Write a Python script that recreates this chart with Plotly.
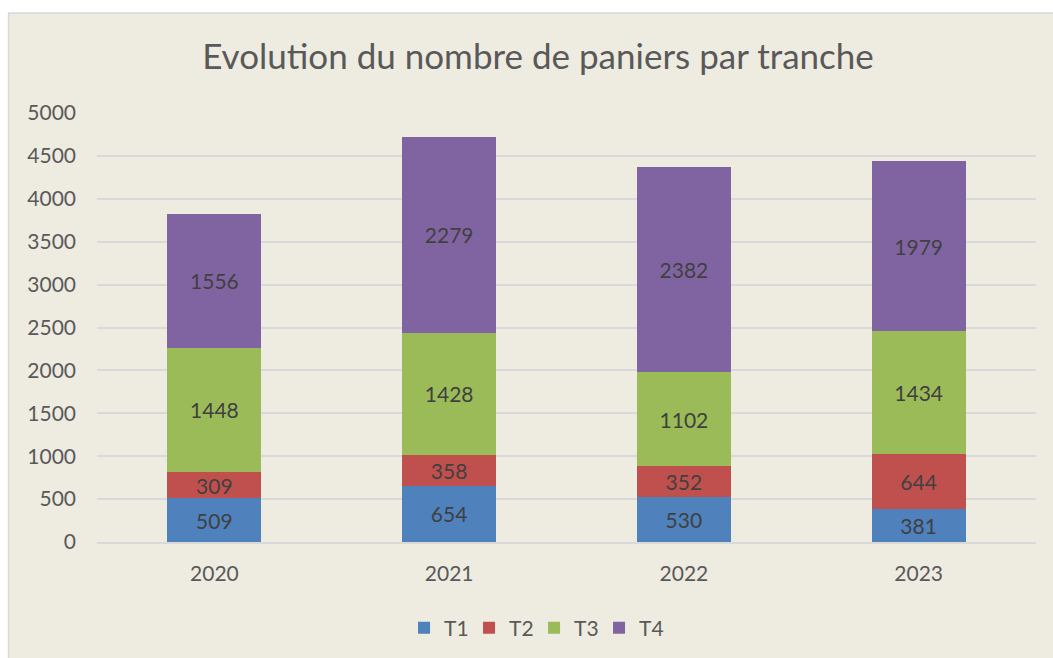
import plotly.graph_objects as go

years = ["2020", "2021", "2022", "2023"]
series_names = ["T1", "T2", "T3", "T4"]
t1 = [509, 654, 530, 381]
t2 = [309, 358, 352, 644]
t3 = [1448, 1428, 1102, 1434]
t4 = [1556, 2279, 2382, 1979]
colors = ["#4F81BD", "#C0504D", "#9BBB59", "#8064A2"]
y_ticks = [0, 500, 1000, 1500, 2000, 2500, 3000, 3500, 4000, 4500, 5000]

FONT = "Lato, 'Open Sans', sans-serif"
BG = "#EEEBE0"

fig = go.Figure()
for name, vals, col in zip(series_names, [t1, t2, t3, t4], colors):
    fig.add_trace(go.Bar(
        x=years, y=vals, name=name,
        marker=dict(color=col, line=dict(width=0)),
        text=vals, texttemplate="%{text}",
        textposition="inside", insidetextanchor="middle",
        constraintext="none",
        textfont=dict(family=FONT, size=21, color="#404040"),
        hoverinfo="x+y+name",
    ))

L, R, T, B = 96.5, 16.5, 113, 116
W, H = 1053, 658
pw, ph = W - L - R, H - T - B

def px_x(x):
    return (x - L) / pw

def px_y(y):
    return (H - B - y) / ph

fig.add_shape(type="rect", xref="paper", yref="paper",
              x0=px_x(8), x1=px_x(1070), y0=px_y(680), y1=px_y(13),
              fillcolor=BG, line=dict(color="#D9D9D9", width=1.5), layer="below")

fig.update_layout(
    width=W, height=H,
    margin=dict(l=L, r=R, t=T, b=B, autoexpand=False),
    paper_bgcolor="white", plot_bgcolor="rgba(0,0,0,0)",
    barmode="stack", bargap=0.6,
    font=dict(family=FONT, color="#595959"),
    title=dict(text="Evolution du nombre de paniers par tranche",
               xref="container", x=538 / W, xanchor="center",
               yref="container", y=1 - 57 / H, yanchor="middle",
               font=dict(family=FONT, size=35, color="#595959")),
    showlegend=True,
    legend=dict(orientation="h", x=px_x(534), xanchor="center", y=px_y(628), yanchor="middle",
                font=dict(family=FONT, size=21, color="#595959"),
                bgcolor="rgba(0,0,0,0)", traceorder="normal", itemwidth=30,
                entrywidth=20, entrywidthmode="pixels"),
    xaxis=dict(showgrid=False, showline=True, linecolor="#D9D9D9", linewidth=1.5,
               ticks="", tickfont=dict(family=FONT, size=21, color="#595959"),
               ticklabelstandoff=12),
    yaxis=dict(range=[0, 5000], tickvals=y_ticks, showgrid=True, gridcolor="#D9D9D9",
               gridwidth=1.5, zeroline=False, showline=False, ticks="",
               tickfont=dict(family=FONT, size=21, color="#595959"),
               ticklabelstandoff=20),
)

fig.write_html("out.html", config={"displayModeBar": False},
               post_script="document.body.style.margin='0px';")
